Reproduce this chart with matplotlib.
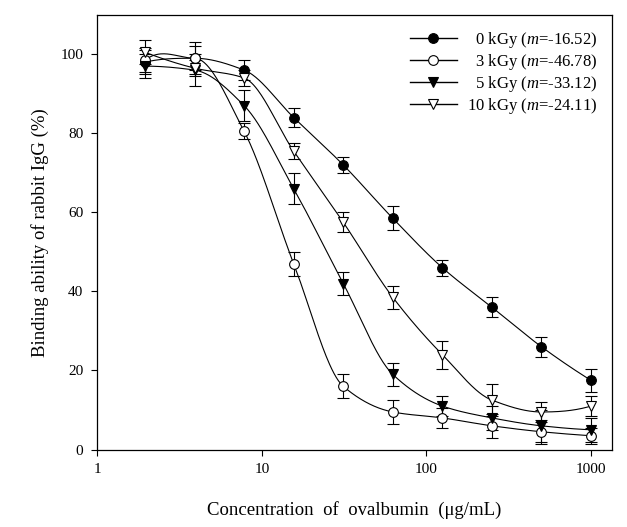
import matplotlib
matplotlib.use("Agg")
import matplotlib.pyplot as plt
import numpy as np

plt.rcParams['font.family'] = ['Liberation Serif', 'DejaVu Serif']
plt.rcParams['mathtext.fontset'] = 'custom'
plt.rcParams['mathtext.it'] = 'Liberation Serif:italic'
plt.rcParams['mathtext.rm'] = 'Liberation Serif'

# concentration of ovalbumin (ug/mL)
conc = [1.953, 3.906, 7.8125, 15.625, 31.25, 62.5, 125, 250, 500, 1000]

labels = ["\u20070 kGy ($m$=-16.52)", "\u20073 kGy ($m$=-46.78)",
          "\u20075 kGy ($m$=-33.12)", "10 kGy ($m$=-24.11)"]

y_0kgy = [98.0, 99.0, 96.0, 84.0, 72.0, 58.5, 46.0, 36.0, 26.0, 17.5]
e_0kgy = [3.0, 4.0, 2.5, 2.5, 2.0, 3.0, 2.0, 2.5, 2.5, 3.0]
y_3kgy = [98.5, 99.0, 80.5, 47.0, 16.0, 9.5, 8.0, 6.0, 4.5, 3.5]
e_3kgy = [3.0, 3.0, 2.0, 3.0, 3.0, 3.0, 2.5, 3.0, 3.0, 2.0]
y_5kgy = [97.0, 96.0, 87.0, 66.0, 42.0, 19.0, 11.0, 8.0, 6.0, 5.0]
e_5kgy = [3.0, 4.0, 4.0, 4.0, 3.0, 3.0, 2.5, 3.0, 4.0, 3.0]
y_10kgy = [100.5, 96.5, 94.0, 75.5, 57.5, 38.5, 24.0, 12.5, 9.5, 11.0]
e_10kgy = [3.0, 2.0, 2.0, 2.0, 2.5, 3.0, 3.5, 4.0, 2.5, 2.5]


def pchip(xk, yk, xs):
    # monotone cubic curve through the measured points (for the drawn line)
    xk = np.asarray(xk, float)
    yk = np.asarray(yk, float)
    h = np.diff(xk)
    d = np.diff(yk) / h
    n = len(xk)
    m = np.zeros(n)
    for k in range(1, n - 1):
        if d[k - 1] * d[k] > 0:
            w1 = 2 * h[k] + h[k - 1]
            w2 = h[k] + 2 * h[k - 1]
            m[k] = (w1 + w2) / (w1 / d[k - 1] + w2 / d[k])
    m[0] = ((2 * h[0] + h[1]) * d[0] - h[0] * d[1]) / (h[0] + h[1])
    if np.sign(m[0]) != np.sign(d[0]):
        m[0] = 0
    m[-1] = ((2 * h[-1] + h[-2]) * d[-1] - h[-1] * d[-2]) / (h[-1] + h[-2])
    if np.sign(m[-1]) != np.sign(d[-1]):
        m[-1] = 0
    idx = np.clip(np.searchsorted(xk, xs) - 1, 0, n - 2)
    t = (xs - xk[idx]) / h[idx]
    h00 = 2 * t**3 - 3 * t**2 + 1
    h10 = t**3 - 2 * t**2 + t
    h01 = -2 * t**3 + 3 * t**2
    h11 = t**3 - t**2
    return (h00 * yk[idx] + h10 * h[idx] * m[idx]
            + h01 * yk[idx + 1] + h11 * h[idx] * m[idx + 1])


fig = plt.figure(figsize=(6.27, 5.27), dpi=100)
ax = fig.add_axes([0.155, 0.147, 0.821, 0.825])

series = [
    (y_0kgy, e_0kgy, 'o', 'black'),
    (y_3kgy, e_3kgy, 'o', 'white'),
    (y_5kgy, e_5kgy, 'v', 'black'),
    (y_10kgy, e_10kgy, 'v', 'white'),
]

lx = np.log10(conc)
xs = np.linspace(lx[0], lx[-1], 400)
handles = []
for (yv, ev, mk, fc), lab in zip(series, labels):
    ys = pchip(lx, yv, xs)
    ax.plot(10**xs, ys, color='black', lw=0.8, zorder=2)
    ax.errorbar(conc, yv, yerr=ev, fmt='none', ecolor='black',
                elinewidth=0.8, capsize=4, capthick=0.8, zorder=3)
    ax.plot(conc, yv, linestyle='none', marker=mk, markersize=7,
            markerfacecolor=fc, markeredgecolor='black', markeredgewidth=0.8,
            zorder=4)
    h, = ax.plot([], [], color='black', lw=1.0, marker=mk, markersize=7,
                 markerfacecolor=fc, markeredgecolor='black',
                 markeredgewidth=0.8)
    handles.append(h)

ax.set_xscale('log')
ax.set_xlim(1, 1340)
ax.set_ylim(0, 110)
ax.set_xticks([1, 10, 100, 1000])
ax.set_xticklabels(['1', '10', '100', '1000'])
ax.xaxis.set_minor_locator(matplotlib.ticker.NullLocator())
ax.set_yticks([0, 20, 40, 60, 80, 100])
ax.tick_params(direction='out', length=4, width=0.8, labelsize=11, pad=6)
for sp in ax.spines.values():
    sp.set_linewidth(0.9)

ax.set_xlabel('Concentration  of  ovalbumin  (\u03bcg/mL)', fontsize=13.5,
              labelpad=18)
ax.set_ylabel('Binding ability of rabbit IgG (%)', fontsize=13.5, labelpad=8)

ax.legend(handles, labels, loc='upper right', frameon=False, fontsize=12,
          handlelength=2.8, handletextpad=0.6, labelspacing=0.12,
          borderaxespad=0.5)

fig.savefig('out.png', dpi=100)
